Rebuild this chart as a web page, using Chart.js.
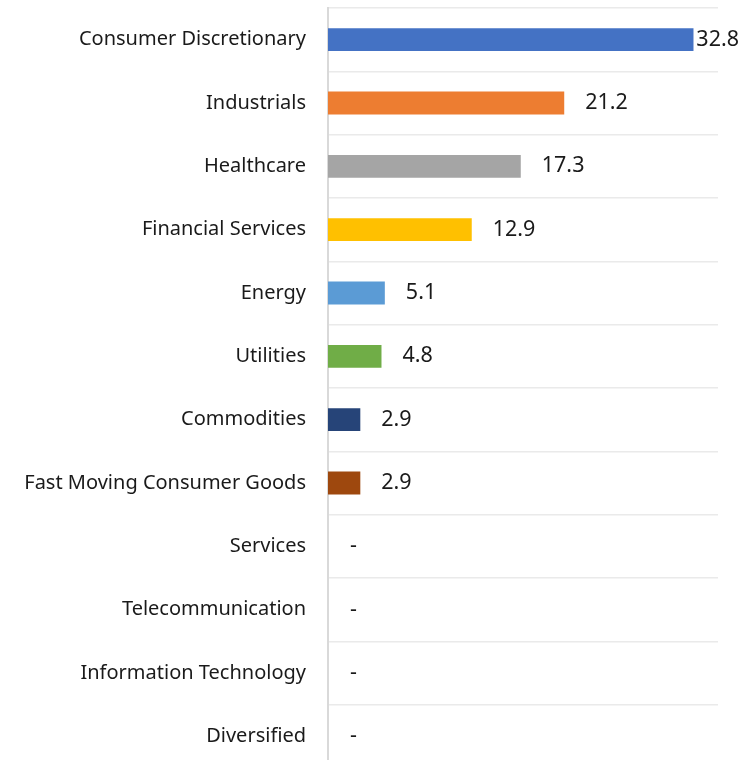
<!DOCTYPE html>
<html>
<head>
<meta charset="utf-8">
<script src="https://cdn.jsdelivr.net/npm/chart.js@4"></script>
<style>
  html, body { margin: 0; padding: 0; background: #fff; overflow: hidden; }
  #wrap { position: relative; width: 754px; height: 784px; margin-top: -4px; }
</style>
</head>
<body>
<div id="wrap"><canvas id="myBarChart"></canvas></div>
<script>
// セクター別の構成比 (%)
const sectors = [
  "Consumer Discretionary",
  "Industrials",
  "Healthcare",
  "Financial Services",
  "Energy",
  "Utilities",
  "Commodities",
  "Fast Moving Consumer Goods",
  "Services",
  "Telecommunication",
  "Information Technology",
  "Diversified"
];
const weights = [32.8, 21.2, 17.3, 12.9, 5.1, 4.8, 2.9, 2.9, 0, 0, 0, 0];
const barColors = [
  "#4472C4", "#ED7D31", "#A5A5A5", "#FFC000",
  "#5B9BD5", "#70AD47", "#264478", "#9E480E",
  "#4472C4", "#ED7D31", "#A5A5A5", "#FFC000"
];
const xMax = 35;

const fontFamily = "'Noto Sans', 'Open Sans', sans-serif";

// バーの右側に数値ラベル（0 は「-」）
const valueLabels = {
  id: 'valueLabels',
  afterDatasetsDraw(chart) {
    const ctx = chart.ctx;
    const meta = chart.getDatasetMeta(0);
    ctx.save();
    ctx.font = "21.5px " + fontFamily;
    ctx.fillStyle = "#1a1a1a";
    ctx.textBaseline = "middle";
    ctx.textAlign = "left";
    meta.data.forEach(function (bar, i) {
      const v = weights[i];
      const text = v ? v.toFixed(1) : "-";
      const w = ctx.measureText(text).width;
      let x = bar.x + (v ? 21 : 22);
      if (x + w > 739) x = 739 - w;
      ctx.fillText(text, x, bar.y);
    });
    ctx.restore();
  }
};

let ctx = document.getElementById("myBarChart");
let myBarChart = new Chart(ctx, {
  type: 'bar',
  data: {
    labels: sectors,
    datasets: [{
      data: weights,
      backgroundColor: barColors,
      borderWidth: 0,
      barPercentage: 0.36,
      categoryPercentage: 1
    }]
  },
  options: {
    indexAxis: 'y',
    responsive: true,
    maintainAspectRatio: false,
    animation: false,
    layout: {
      padding: { top: 7, bottom: 7, left: 0, right: 36 }
    },
    plugins: {
      legend: { display: false },
      tooltip: { enabled: false }
    },
    scales: {
      x: {
        display: false,
        min: 0,
        max: xMax
      },
      y: {
        afterFit: function (scale) { scale.width = 328; },
        grid: {
          color: "#eaeaea",
          lineWidth: 1.5,
          drawTicks: true,
          tickLength: 22,
          tickColor: "rgba(0,0,0,0)",
          offset: true
        },
        border: { display: true, color: "#d9d9d9", width: 2 },
        ticks: {
          padding: 0,
          color: "#1a1a1a",
          font: { size: 20, family: fontFamily }
        }
      }
    }
  },
  plugins: [valueLabels]
});
</script>
</body>
</html>
